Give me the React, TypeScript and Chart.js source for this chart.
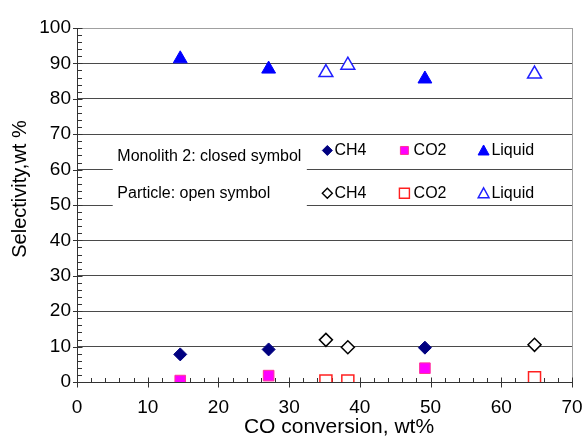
import React, { useEffect, useRef } from 'react';
import { Chart, registerables } from 'chart.js';

Chart.register(...registerables);

const FONT = "'Liberation Sans', Arial, Helvetica, sans-serif";

// ---- data ----
const conversionMonolith = [14.6, 27.1, 49.2];
const conversionParticle = [35.2, 38.3, 64.7];
const ch4Monolith = [7.8, 9.2, 9.7];
const ch4Particle = [11.9, 9.8, 10.5];
const co2Monolith = [0.4, 1.8, 3.9];
const co2Particle = [0.3, 0.3, 1.2];
const liquidMonolith = [91.3, 88.4, 85.6];
const liquidParticle = [87.4, 89.5, 87.0];

const seriesNames = ['CH4', 'CO2', 'Liquid'];
const groupNames = ['Monolith 2: closed symbol', 'Particle: open symbol'];

const xTitle = 'CO conversion, wt%';
const yTitle = 'Selectivity,wt %';

const pts = (xs: number[], ys: number[]) => xs.map((x, i) => ({ x, y: ys[i] }));

// marker drawing for the legend
function drawMarker(ctx: CanvasRenderingContext2D, kind: string, filled: boolean, fill: string, stroke: string, cx: number, cy: number) {
  ctx.save();
  ctx.beginPath();
  if (kind === 'diamond') {
    const r = 5;
    ctx.moveTo(cx, cy - r);
    ctx.lineTo(cx + r, cy);
    ctx.lineTo(cx, cy + r);
    ctx.lineTo(cx - r, cy);
    ctx.closePath();
  } else if (kind === 'square') {
    const h = filled ? 4 : 5;
    ctx.rect(cx - h, cy - h, 2 * h, 2 * h);
  } else {
    const w = 5.5;
    ctx.moveTo(cx, cy - 5.5);
    ctx.lineTo(cx + w, cy + 4.5);
    ctx.lineTo(cx - w, cy + 4.5);
    ctx.closePath();
  }
  ctx.fillStyle = filled ? fill : '#ffffff';
  ctx.fill();
  ctx.lineWidth = filled ? 1 : 1.4;
  ctx.strokeStyle = stroke;
  ctx.stroke();
  ctx.restore();
}

const axisTicksPlugin = {
  id: 'axisTicks',
  beforeDatasetsDraw(chart: any) {
    const { ctx, chartArea, scales } = chart;
    const x = scales.x;
    const y = scales.y;
    const ax = Math.round(chartArea.left) + 0.5;
    const ay = Math.round(chartArea.bottom) + 0.5;
    ctx.save();
    ctx.strokeStyle = '#333333';
    ctx.lineWidth = 1;
    ctx.beginPath();
    for (let v = 0; v <= 100; v += 2) {
      const py = Math.round(y.getPixelForValue(v)) + 0.5;
      if (v % 10 === 0) {
        ctx.moveTo(ax - 4.5, py);
        ctx.lineTo(ax + 5, py);
      } else {
        ctx.moveTo(ax, py);
        ctx.lineTo(ax + 4.5, py);
      }
    }
    for (let v = 0; v <= 70; v += 2) {
      const px = Math.round(x.getPixelForValue(v)) + 0.5;
      if (v % 10 === 0) {
        ctx.moveTo(px, ay - 5);
        ctx.lineTo(px, ay + 5);
      } else {
        ctx.moveTo(px, ay - 4.5);
        ctx.lineTo(px, ay);
      }
    }
    ctx.stroke();
    ctx.restore();
  },
};

const legendPlugin = {
  id: 'customLegend',
  beforeDatasetsDraw(chart: any) {
    const { ctx, scales } = chart;
    const x = scales.x;
    const y = scales.y;
    ctx.save();
    // white text box hiding gridlines behind the group labels
    const x0 = x.getPixelForValue(5.05);
    const x1 = x.getPixelForValue(32.5);
    const y0 = y.getPixelForValue(67.5);
    const y1 = y.getPixelForValue(46);
    ctx.fillStyle = '#ffffff';
    ctx.fillRect(x0, y0, x1 - x0, y1 - y0);

    ctx.font = `16px ${FONT}`;
    ctx.fillStyle = '#000000';
    ctx.textBaseline = 'middle';
    ctx.textAlign = 'left';
    ctx.fillText(groupNames[0], x.getPixelForValue(5.7), y.getPixelForValue(63.8));
    ctx.fillText(groupNames[1], x.getPixelForValue(5.7), y.getPixelForValue(53.3));

    const markerX = [35.4, 46.3, 57.5];
    const textX = [36.4, 47.6, 58.6];
    const rows = [65.4, 53.3];
    const kinds = ['diamond', 'square', 'triangle'];
    const fills = ['#000080', '#ff00ff', '#0000ff'];
    const strokesClosed = ['#000080', '#ff3399', '#0000ff'];
    const strokesOpen = ['#000000', '#ff2020', '#2020ff'];
    rows.forEach((rv, r) => {
      const py = y.getPixelForValue(rv);
      for (let i = 0; i < 3; i++) {
        drawMarker(ctx, kinds[i], r === 0, fills[i], r === 0 ? strokesClosed[i] : strokesOpen[i], x.getPixelForValue(markerX[i]), py);
        ctx.fillStyle = '#000000';
        ctx.fillText(seriesNames[i], x.getPixelForValue(textX[i]), py);
      }
    });
    ctx.restore();
  },
};

const titlesPlugin = {
  id: 'axisTitles',
  afterDraw(chart: any) {
    const { ctx, chartArea } = chart;
    ctx.save();
    ctx.fillStyle = '#000000';
    ctx.textAlign = 'center';
    ctx.font = `21px ${FONT}`;
    ctx.textBaseline = 'alphabetic';
    ctx.fillText(xTitle, (chartArea.left + chartArea.right) / 2 + 14.5, chart.height - 4);
    ctx.translate(20, (chartArea.top + chartArea.bottom) / 2 - 16);
    ctx.rotate(-Math.PI / 2);
    ctx.font = `20px ${FONT}`;
    ctx.textBaseline = 'middle';
    ctx.fillText(yTitle, 0, 0);
    ctx.restore();
  },
};

export default function App() {
  const canvasRef = useRef<HTMLCanvasElement | null>(null);

  useEffect(() => {
    document.body.style.margin = '0';
    const canvas = canvasRef.current;
    if (!canvas) return;
    Chart.defaults.font.family = FONT;
    const chart = new Chart(canvas, {
      type: 'scatter',
      data: {
        datasets: [
          {
            label: 'Monolith CH4',
            data: pts(conversionMonolith, ch4Monolith),
            pointStyle: 'rectRot',
            pointRadius: 6.5,
            backgroundColor: '#000080',
            borderColor: '#000080',
            borderWidth: 1,
          },
          {
            label: 'Particle CH4',
            data: pts(conversionParticle, ch4Particle),
            pointStyle: 'rectRot',
            pointRadius: 6.5,
            backgroundColor: '#ffffff',
            borderColor: '#000000',
            borderWidth: 1.5,
          },
          {
            label: 'Monolith CO2',
            data: pts(conversionMonolith, co2Monolith),
            pointStyle: 'rect',
            pointRadius: 7.5,
            backgroundColor: '#ff00ff',
            borderColor: '#ff3399',
            borderWidth: 1,
          },
          {
            label: 'Particle CO2',
            data: pts(conversionParticle, co2Particle),
            pointStyle: 'rect',
            pointRadius: 8.5,
            backgroundColor: '#ffffff',
            borderColor: '#ff2020',
            borderWidth: 1.5,
          },
          {
            label: 'Monolith Liquid',
            data: pts(conversionMonolith, liquidMonolith),
            pointStyle: 'triangle',
            pointRadius: 8,
            backgroundColor: '#0000ff',
            borderColor: '#0000ff',
            borderWidth: 1,
          },
          {
            label: 'Particle Liquid',
            data: pts(conversionParticle, liquidParticle),
            pointStyle: 'triangle',
            pointRadius: 8,
            backgroundColor: '#ffffff',
            borderColor: '#2020ff',
            borderWidth: 1.5,
          },
        ],
      },
      options: {
        responsive: false,
        animation: false,
        devicePixelRatio: 1,
        layout: { padding: { top: 28, right: 13, bottom: 0, left: 0 } },
        plugins: {
          legend: { display: false },
          tooltip: { enabled: false },
        },
        scales: {
          x: {
            type: 'linear',
            min: 0,
            max: 70,
            ticks: {
              stepSize: 10,
              color: '#000000',
              font: { size: 19, family: FONT },
              padding: 14,
              maxRotation: 0,
            },
            grid: {
              drawTicks: false,
              color: (c: any) => (c.tick && c.tick.value === 70 ? '#a0a0a0' : 'rgba(0,0,0,0)'),
              lineWidth: 1,
            },
            border: { color: '#333333', width: 1 },
            title: { display: false, text: xTitle },
            afterFit: (s: any) => {
              s.height = 55;
              s.paddingLeft = 0;
              s.paddingRight = 0;
            },
          },
          y: {
            type: 'linear',
            min: 0,
            max: 100,
            ticks: {
              stepSize: 10,
              color: '#000000',
              font: { size: 19, family: FONT },
              padding: 6,
            },
            grid: {
              drawTicks: false,
              color: (c: any) => {
                const v = c.tick ? c.tick.value : -1;
                if (v === 0) return 'rgba(0,0,0,0)';
                if (v === 100) return '#a0a0a0';
                return '#4a4a4a';
              },
              lineWidth: 1,
            },
            border: { color: '#333333', width: 1 },
            title: { display: false, text: yTitle },
            afterFit: (s: any) => {
              s.width = 77;
              s.paddingTop = 0;
              s.paddingBottom = 0;
            },
          },
        },
      },
      plugins: [axisTicksPlugin, legendPlugin, titlesPlugin],
    } as any);
    return () => chart.destroy();
  }, []);

  return (
    <div style={{ width: 585, height: 437, background: '#ffffff' }}>
      <canvas ref={canvasRef} width={585} height={437} style={{ width: 585, height: 437, display: 'block' }} />
    </div>
  );
}
